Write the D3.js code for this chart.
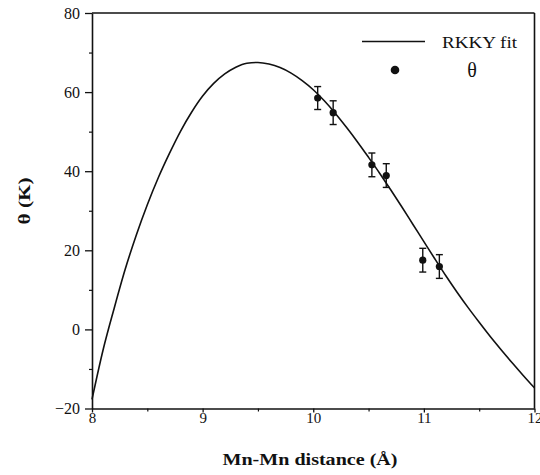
<!DOCTYPE html>
<html>
<head>
<meta charset="utf-8">
<script src="https://cdn.jsdelivr.net/npm/d3@7"></script>
<style>
  html, body { margin: 0; padding: 0; background: #fff; }
  svg { display: block; }
  text { font-family: "Liberation Serif", "DejaVu Serif", serif; fill: #111; }
</style>
</head>
<body>
<svg id="chart" width="540" height="475"></svg>
<script>
// RKKY fit curve, sampled along the Mn-Mn distance (Å) every 0.1
const fitX = [8.0, 8.1, 8.2, 8.3, 8.4, 8.5, 8.6, 8.7, 8.8, 8.9, 9.0, 9.1, 9.2, 9.3, 9.4, 9.5, 9.6, 9.7, 9.8, 9.9,
              10.0, 10.1, 10.2, 10.3, 10.4, 10.5, 10.6, 10.7, 10.8, 10.9, 11.0, 11.1, 11.2, 11.3, 11.4, 11.5, 11.6, 11.7, 11.8, 11.9, 12.0];
const fitY = [-17.7, -5.2, 5.3, 15.2, 23.8, 31.5, 38.4, 44.5, 50.1, 54.9, 59.0, 62.2, 64.6, 66.3, 67.3, 67.5, 67.1, 66.2, 64.8, 62.9,
              60.6, 57.8, 54.6, 51.1, 47.4, 43.5, 39.5, 35.3, 31.0, 26.6, 22.2, 17.8, 13.5, 9.4, 5.5, 1.8, -1.8, -5.2, -8.5, -11.7, -14.8];

// Measured Curie-Weiss temperatures with error bars
const distX = [10.04, 10.18, 10.53, 10.66, 10.99, 11.14];
const thetaY = [58.5, 54.8, 41.6, 38.9, 17.5, 15.9];
const thetaErr = [2.9, 3.0, 3.0, 3.0, 3.0, 3.0];

// Axis ticks
const xMajor = [8, 9, 10, 11, 12];
const xMinor = [8.5, 9.5, 10.5, 11.5];
const yMajor = [-20, 0, 20, 40, 60, 80];
const yMinor = [-10, 10, 30, 50, 70];

const svg = d3.select("#chart");
const x = d3.scaleLinear().domain([8, 12]).range([92, 534.5]);
const y = d3.scaleLinear().domain([-20, 80]).range([408.5, 13]);

const ink = "#111";

// Minor ticks
svg.append("g")
  .attr("transform", `translate(0,${y(-20)})`)
  .call(d3.axisBottom(x).tickValues(xMinor).tickSize(3).tickFormat(""))
  .call(g => g.select(".domain").remove())
  .call(g => g.selectAll("line").attr("stroke", ink).attr("stroke-width", 1.2));
svg.append("g")
  .attr("transform", `translate(${x(8)},0)`)
  .call(d3.axisLeft(y).tickValues(yMinor).tickSize(3).tickFormat(""))
  .call(g => g.select(".domain").remove())
  .call(g => g.selectAll("line").attr("stroke", ink).attr("stroke-width", 1.2));

// Major axes
const xAxis = svg.append("g")
  .attr("transform", `translate(0,${y(-20)})`)
  .call(d3.axisBottom(x).tickValues(xMajor).tickSize(4).tickSizeOuter(0).tickPadding(0).tickFormat(d3.format("d")));
xAxis.selectAll("text").attr("font-size", 15).attr("font-family", "Liberation Serif").attr("fill", ink);

const yAxis = svg.append("g")
  .attr("transform", `translate(${x(8)},0)`)
  .call(d3.axisLeft(y).tickValues(yMajor).tickSize(7).tickSizeOuter(0).tickPadding(5).tickFormat(d3.format("d")));
yAxis.selectAll("text").attr("font-size", 16).attr("font-family", "Liberation Serif").attr("fill", ink);

[xAxis, yAxis].forEach(g => {
  g.select(".domain").attr("stroke", ink).attr("stroke-width", 1.6);
  g.selectAll(".tick line").attr("stroke", ink).attr("stroke-width", 1.3);
});

// Frame: top and right edges
svg.append("line").attr("x1", x(8)).attr("x2", x(12)).attr("y1", y(80)).attr("y2", y(80))
  .attr("stroke", ink).attr("stroke-width", 1.6);
svg.append("line").attr("x1", x(12)).attr("x2", x(12)).attr("y1", y(80)).attr("y2", y(-20))
  .attr("stroke", ink).attr("stroke-width", 1.6);

// Fit curve
const fitData = fitX.map((d, i) => [d, fitY[i]]);
svg.append("path")
  .datum(fitData)
  .attr("fill", "none")
  .attr("stroke", ink)
  .attr("stroke-width", 1.6)
  .attr("d", d3.line().x(d => x(d[0])).y(d => y(d[1])).curve(d3.curveMonotoneX));

// Data points with error bars
const pts = distX.map((d, i) => ({ x: d, y: thetaY[i], e: thetaErr[i] }));
const pg = svg.append("g").selectAll("g").data(pts).join("g");
pg.append("line")
  .attr("x1", d => x(d.x)).attr("x2", d => x(d.x))
  .attr("y1", d => y(d.y + d.e)).attr("y2", d => y(d.y - d.e))
  .attr("stroke", ink).attr("stroke-width", 1.4);
[1, -1].forEach(s => {
  pg.append("line")
    .attr("x1", d => x(d.x) - 3.5).attr("x2", d => x(d.x) + 3.5)
    .attr("y1", d => y(d.y + s * d.e)).attr("y2", d => y(d.y + s * d.e))
    .attr("stroke", ink).attr("stroke-width", 1.4);
});
pg.append("circle")
  .attr("cx", d => x(d.x)).attr("cy", d => y(d.y))
  .attr("r", 3.6).attr("fill", ink);

// Legend
svg.append("line").attr("x1", 362).attr("x2", 425).attr("y1", 41.5).attr("y2", 41.5)
  .attr("stroke", ink).attr("stroke-width", 1.4);
svg.append("text").attr("x", 442).attr("y", 48).attr("font-size", 16)
  .attr("textLength", 75).attr("lengthAdjust", "spacingAndGlyphs").text("RKKY fit");
svg.append("circle").attr("cx", 395).attr("cy", 70).attr("r", 4.3).attr("fill", ink);
svg.append("text").attr("x", 472).attr("y", 77).attr("font-size", 20)
  .attr("text-anchor", "middle").text("θ");

// Axis titles
svg.append("text").attr("x", 310).attr("y", 465).attr("font-size", 16)
  .attr("font-weight", "bold").attr("text-anchor", "middle")
  .attr("textLength", 175).attr("lengthAdjust", "spacingAndGlyphs")
  .text("Mn-Mn distance (Å)");
svg.append("text")
  .attr("transform", "translate(30,201) rotate(-90)")
  .attr("font-size", 16).attr("font-weight", "bold").attr("text-anchor", "middle")
  .attr("textLength", 47).attr("lengthAdjust", "spacingAndGlyphs")
  .text("θ (K)");
</script>
</body>
</html>
